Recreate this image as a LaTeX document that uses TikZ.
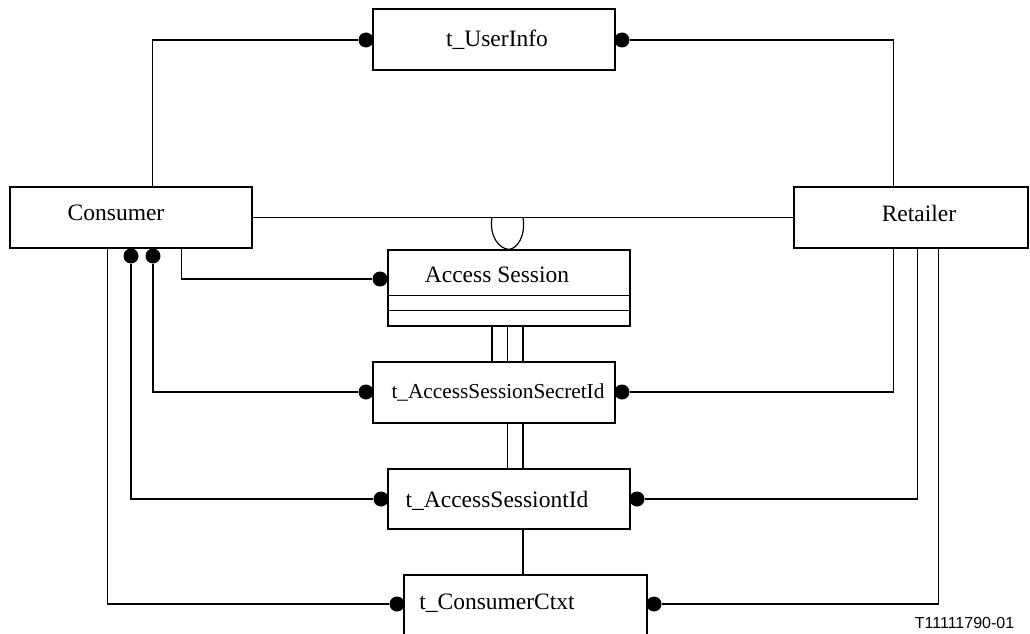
\documentclass[tikz,border=0pt]{standalone}
\usepackage{fontspec}
\setmainfont{Liberation Serif}
\newfontfamily\labelfont{Liberation Sans}
\begin{document}
\begin{tikzpicture}[x=1pt,y=-1pt,
  box/.style={draw,line width=1.3pt,inner sep=0pt,minimum width=242pt,minimum height=61pt},
  conn/.style={line width=1.2pt},
  dot/.style={circle,fill=black,inner sep=0pt,minimum size=15pt},
  txt/.style={font=\fontsize{23.5}{28}\selectfont,inner sep=0pt},
  smalltxt/.style={font=\fontsize{21.3}{25}\selectfont,inner sep=0pt}]
\useasboundingbox (0,0) rectangle (1030,634);
\clip (0,0) rectangle (1030,634);

% classes
\node[box] (userinfo) at (494,39.5) {};
\node[box] (consumer) at (131,217.5) {};
\node[box,minimum width=234pt] (retailer) at (911,217.5) {};
\node[box,minimum height=76pt] (access) at (509,288) {};
\node[box] (secret) at (494,392.5) {};
\node[box,minimum height=60pt] (sessid) at (509,499) {};
\node[box,minimum width=243pt,minimum height=70pt] (ctxt) at (525.5,610) {};

% compartments of the Access Session class
\draw[line width=1.3pt] ([yshift=-46pt]access.north west) -- ([yshift=-46pt]access.north east);
\draw[line width=1.3pt] ([yshift=-61pt]access.north west) -- ([yshift=-61pt]access.north east);

% class names
\node[txt] (userinfo-t) at (497,40) {t\_UserInfo};
\node[txt] (consumer-t) at (116,213) {Consumer};
\node[txt] (retailer-t) at (919,213) {Retailer};
\node[txt] (access-t) at (497,275) {Access Session};
\node[smalltxt] (secret-t) at (498,392) {t\_AccessSessionSecretId};
\node[txt] (sessid-t) at (497,501) {t\_AccessSessiontId};
\node[txt] (ctxt-t) at (497,603) {t\_ConsumerCtxt};
\node[font=\labelfont\fontsize{16}{19}\selectfont,inner sep=0pt] (figid) at (964.5,623) {T11111790-01};

% association ends
\node[dot] (uiL) at (366,40) {};
\node[dot] (uiR) at (622,40) {};
\node[dot] (asL) at (380,279) {};
\node[dot] (secL) at (366,392) {};
\node[dot] (secR) at (622,392) {};
\node[dot] (idL) at (381,499) {};
\node[dot] (idR) at (637,499) {};
\node[dot] (ctL) at (397,604) {};
\node[dot] (ctR) at (654,604) {};
\node[dot] (cd1) at (131,256) {};
\node[dot] (cd2) at (153,256) {};

% associations
\draw[conn] ([xshift=143pt]consumer.north west) |- (uiL);
\draw[conn] (uiR) -| ([xshift=100pt]retailer.north west);
\draw[conn] (consumer.east) -- (retailer.west);
\draw[conn] (492,217.5) .. controls (489,236) and (499,249) .. (access.north)
  .. controls (517,249) and (526,236) .. (523,217.5);
\draw[conn] ([xshift=172pt]consumer.south west) |- (asL);
\draw[conn] (cd2) |- (secL);
\draw[conn] (cd1) |- (idL);
\draw[conn] ([xshift=98pt]consumer.south west) |- (ctL);
\draw[conn] (secR) -| ([xshift=100pt]retailer.south west);
\draw[conn] (idR) -| ([xshift=124pt]retailer.south west);
\draw[conn] (ctR) -| ([xshift=145pt]retailer.south west);

% links between the classes down the middle
\draw[conn] ([xshift=-17pt]access.south) -- ([xshift=-2pt]secret.north);
\draw[conn] ([xshift=-1.5pt]access.south) -- ([xshift=13.5pt]secret.north);
\draw[conn] ([xshift=14pt]access.south) -- ([xshift=29pt]secret.north);
\draw[conn] ([xshift=13.5pt]secret.south) -- ([xshift=-1.5pt]sessid.north);
\draw[conn] ([xshift=29pt]secret.south) -- ([xshift=14pt]sessid.north);
\draw[conn] ([xshift=14pt]sessid.south) -- ([xshift=-2.5pt]ctxt.north);
\end{tikzpicture}
\end{document}
